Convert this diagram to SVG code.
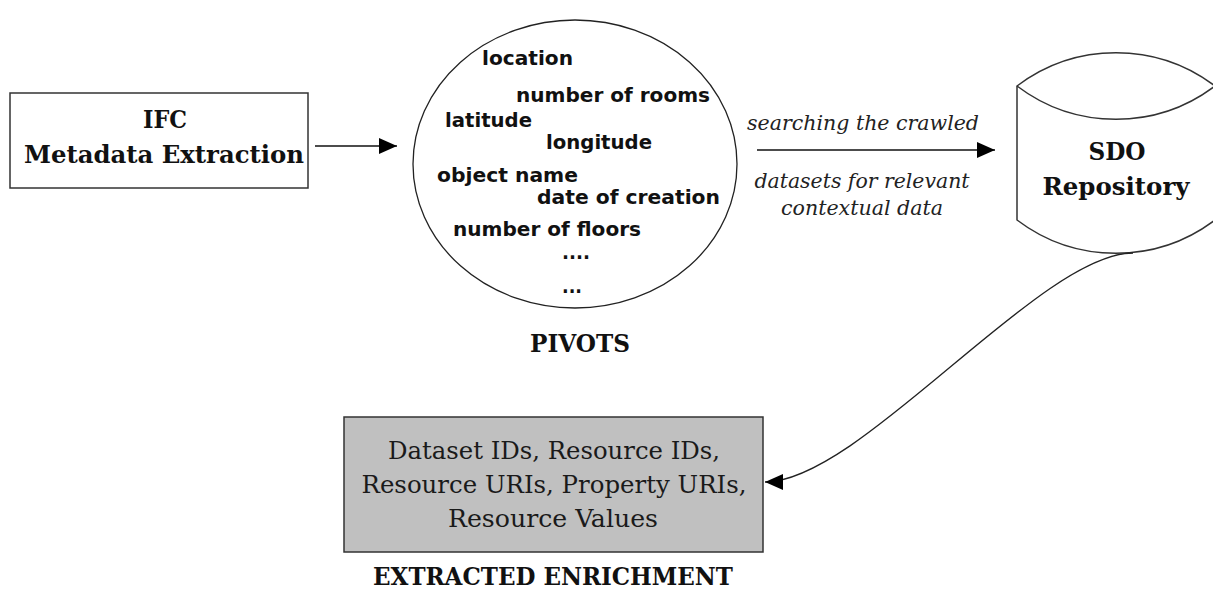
<svg xmlns="http://www.w3.org/2000/svg" width="1213" height="590" viewBox="0 0 1213 590">
  <style>
    .serif-b { font-family: "DejaVu Serif Condensed", "DejaVu Serif", "Liberation Serif", serif; font-stretch: condensed; font-weight: bold; fill: #111; }
    .serif { font-family: "DejaVu Serif Condensed", "DejaVu Serif", "Liberation Serif", serif; font-stretch: condensed; fill: #1a1a1a; }
    .serif-i { font-family: "DejaVu Serif Condensed", "DejaVu Serif", "Liberation Serif", serif; font-stretch: condensed; font-style: italic; fill: #222; }
    .sans-b { font-family: "DejaVu Sans", "Liberation Sans", sans-serif; font-weight: bold; fill: #111; }
    .outline { fill: #fff; stroke: #333; stroke-width: 1.5; }
    .conn { fill: none; stroke: #111; stroke-width: 1.5; }
  </style>
  <defs>
    <marker id="arrow" markerWidth="18" markerHeight="16" refX="18" refY="8" orient="auto" markerUnits="userSpaceOnUse">
      <path d="M0,0 L18,8 L0,16 z" fill="#000"/>
    </marker>
  </defs>
  <rect width="1213" height="590" fill="#fff"/>

  <!-- source box -->
  <g id="ifc-extraction">
    <rect class="outline" x="10" y="93" width="298" height="95"/>
    <text class="serif-b" x="165" y="128" font-size="24" text-anchor="middle" textLength="44" lengthAdjust="spacingAndGlyphs">IFC</text>
    <text class="serif-b" x="164" y="163" font-size="24" text-anchor="middle" textLength="280" lengthAdjust="spacingAndGlyphs">Metadata Extraction</text>
  </g>

  <!-- pivot terms -->
  <g id="pivots">
    <ellipse cx="575" cy="164" rx="162" ry="144" fill="#fff" stroke="#222" stroke-width="1.3"/>
    <text class="sans-b" x="482" y="65" font-size="19" textLength="91" lengthAdjust="spacingAndGlyphs">location</text>
    <text class="sans-b" x="516" y="102" font-size="19" textLength="194" lengthAdjust="spacingAndGlyphs">number of rooms</text>
    <text class="sans-b" x="445" y="127" font-size="19" textLength="87" lengthAdjust="spacingAndGlyphs">latitude</text>
    <text class="sans-b" x="546" y="149" font-size="19" textLength="106" lengthAdjust="spacingAndGlyphs">longitude</text>
    <text class="sans-b" x="437" y="182" font-size="19" textLength="141" lengthAdjust="spacingAndGlyphs">object name</text>
    <text class="sans-b" x="537" y="204" font-size="19" textLength="183" lengthAdjust="spacingAndGlyphs">date of creation</text>
    <text class="sans-b" x="453" y="236" font-size="19" textLength="188" lengthAdjust="spacingAndGlyphs">number of floors</text>
    <text class="sans-b" x="562" y="259" font-size="19" textLength="28" lengthAdjust="spacingAndGlyphs">....</text>
    <text class="sans-b" x="562" y="293" font-size="19" textLength="20" lengthAdjust="spacingAndGlyphs">...</text>
    <text class="serif-b" x="580" y="352" font-size="25" text-anchor="middle" textLength="100" lengthAdjust="spacingAndGlyphs">PIVOTS</text>
  </g>

  <!-- repository cylinder -->
  <g id="sdo-repository">
    <path class="outline" d="M1017,86 A164,164 0 0 1 1215,86 L1215,220 A164,164 0 0 1 1017,220 Z"/>
    <path fill="none" stroke="#333" stroke-width="1.5" d="M1017,86 A164,164 0 0 0 1215,86"/>
    <text class="serif-b" x="1117" y="160" font-size="24" text-anchor="middle" textLength="57" lengthAdjust="spacingAndGlyphs">SDO</text>
    <text class="serif-b" x="1116" y="195" font-size="24" text-anchor="middle" textLength="147" lengthAdjust="spacingAndGlyphs">Repository</text>
  </g>

  <!-- result box -->
  <g id="extracted-enrichment">
    <rect x="344" y="417" width="419" height="135" fill="#c0c0c0" stroke="#333" stroke-width="1.5"/>
    <text class="serif" x="554" y="459" font-size="25" text-anchor="middle" textLength="332" lengthAdjust="spacingAndGlyphs">Dataset IDs, Resource IDs,</text>
    <text class="serif" x="554" y="493" font-size="25" text-anchor="middle" textLength="385" lengthAdjust="spacingAndGlyphs">Resource URIs, Property URIs,</text>
    <text class="serif" x="553" y="527" font-size="25" text-anchor="middle" textLength="210" lengthAdjust="spacingAndGlyphs">Resource Values</text>
    <text class="serif-b" x="553" y="585" font-size="25" text-anchor="middle" textLength="360" lengthAdjust="spacingAndGlyphs">EXTRACTED ENRICHMENT</text>
  </g>

  <!-- connectors -->
  <g id="connectors">
    <path class="conn" d="M315,146 L397,146" marker-end="url(#arrow)"/>
    <path class="conn" d="M757,150 L995,150" marker-end="url(#arrow)"/>
    <text class="serif-i" x="863" y="130" font-size="21" text-anchor="middle" textLength="232" lengthAdjust="spacingAndGlyphs">searching the crawled</text>
    <text class="serif-i" x="862" y="188" font-size="21" text-anchor="middle" textLength="215" lengthAdjust="spacingAndGlyphs">datasets for relevant</text>
    <text class="serif-i" x="862" y="215" font-size="21" text-anchor="middle" textLength="162" lengthAdjust="spacingAndGlyphs">contextual data</text>
    <path fill="none" stroke="#222" stroke-width="1.3" d="M1133,253 C1040,253 860,482 765,482" marker-end="url(#arrow)"/>
  </g>
</svg>
